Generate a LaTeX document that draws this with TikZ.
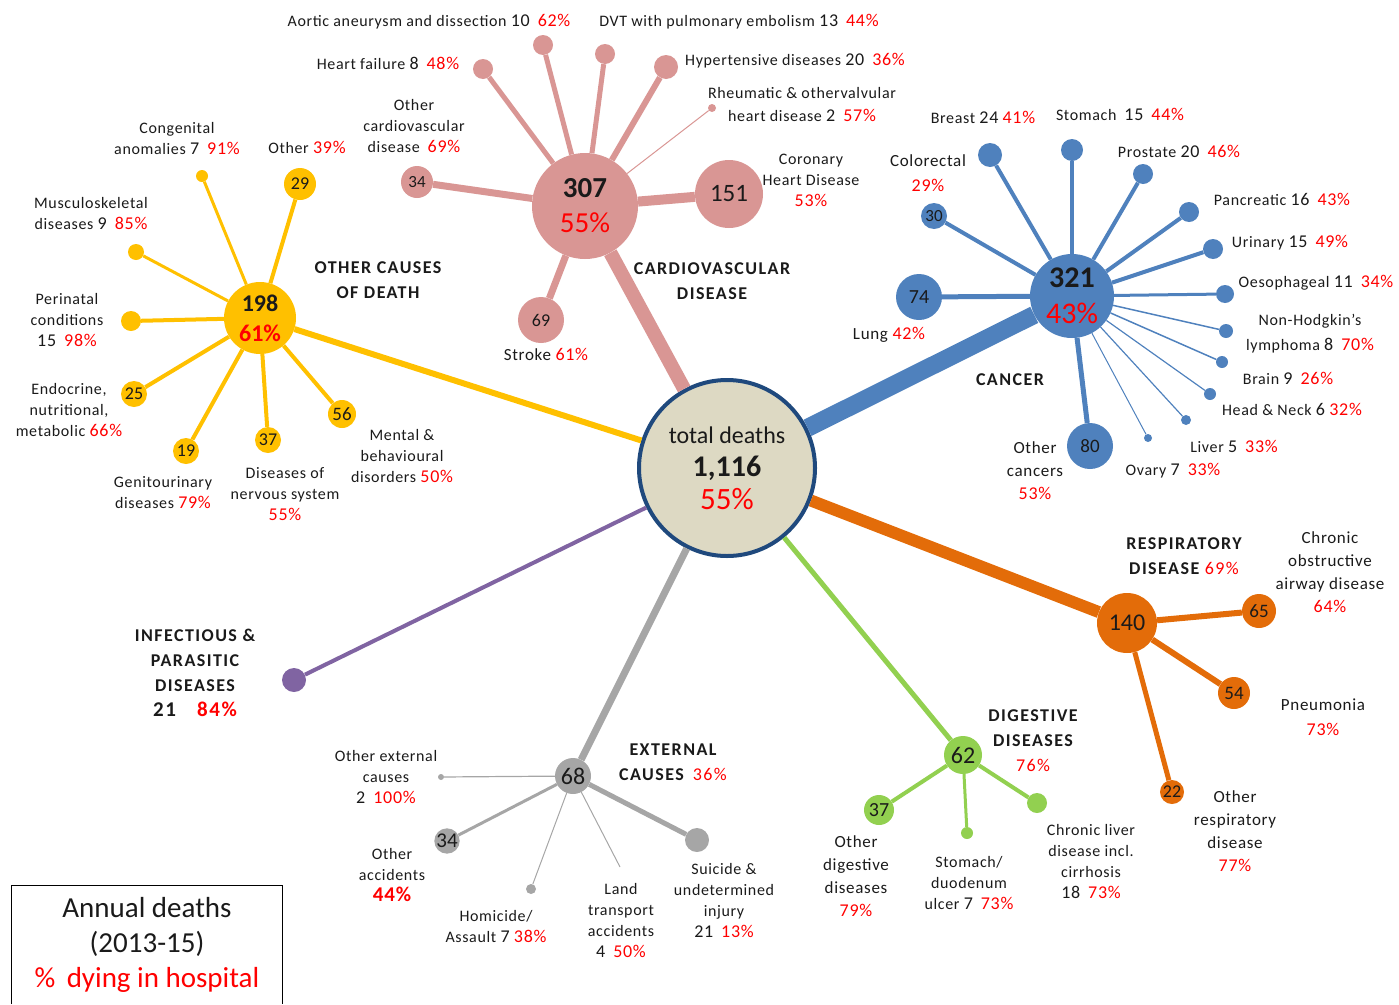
\documentclass[tikz,border=0pt]{standalone}
\usepackage{fontspec}
\setmainfont{Carlito}
\usetikzlibrary{positioning}
\definecolor{cvdc}{HTML}{D99694}
\definecolor{othc}{HTML}{FFC000}
\definecolor{canc}{HTML}{4F81BD}
\definecolor{resc}{HTML}{E36C09}
\definecolor{digc}{HTML}{92D050}
\definecolor{extc}{HTML}{A6A6A6}
\definecolor{infc}{HTML}{8064A2}
\definecolor{ctrfill}{HTML}{DDD9C3}
\definecolor{ctrline}{HTML}{1F497D}
\definecolor{pcred}{HTML}{FF0000}
\definecolor{txt}{HTML}{1A1A1A}
\newcommand\pc[1]{{\fontsize{18}{20}\selectfont\color{pcred}#1}}
\newcommand\nb[1]{{\fontsize{18}{20}\selectfont #1}}
\newcommand\fs[1]{\fontsize{#1}{#1}\selectfont}
\newcommand\lsp[1]{\addfontfeature{LetterSpace=#1}}
\tikzset{
  leaf/.style 2 args={circle, inner sep=0pt, fill=#1, minimum size=#2, text=txt},
  lbl/.style={align=center, text=txt, inner sep=0pt, font=\fontsize{16}{21}\selectfont\lsp{4}},
  ttl/.style={align=center, text=txt, inner sep=0pt, font=\bfseries\fontsize{18}{25}\selectfont\lsp{8}}
}
\begin{document}
\begin{tikzpicture}[x=1pt,y=-1pt]
\useasboundingbox (0,0) rectangle (1399,1004);

% Total
\node[circle, fill=ctrfill, draw=ctrline, line width=4, minimum size=176, inner sep=0pt,
  align=center, text=txt, font=\fontsize{30}{33}\selectfont] (total) at (727,468)
  {{\fs{24}total deaths}\\{\bfseries 1,116}\\{\fs{31}\color{pcred}55\%}};

% Cardiovascular
\node[leaf={cvdc}{106}, align=center, font=\fontsize{29}{35}\selectfont] (cvd) at (585,206)
  {{\bfseries 307}\\{\color{pcred}55\%}};
\node[leaf={cvdc}{68}, font=\fs{25}] (chd) at (729,194) {151};
\node[leaf={cvdc}{32}, font=\fs{17}] (ocvd) at (417,182) {34};
\node[leaf={cvdc}{46}, font=\fs{18}] (stroke) at (541,320) {69};
\node[leaf={cvdc}{20}] (hf) at (483,69) {};
\node[leaf={cvdc}{20}] (aort) at (543,45) {};
\node[leaf={cvdc}{20}] (dvt) at (605,54) {};
\node[leaf={cvdc}{24}] (hyp) at (666,67) {};
\node[leaf={cvdc}{8}] (rheum) at (712,108) {};
\draw[cvdc, line width=14] (total) -- (cvd);
\draw[cvdc, line width=10] (cvd) -- (chd);
\draw[cvdc, line width=7] (cvd) -- (ocvd);
\draw[cvdc, line width=7] (cvd) -- (stroke);
\draw[cvdc, line width=5] (cvd) -- (hf);
\draw[cvdc, line width=5] (cvd) -- (aort);
\draw[cvdc, line width=5] (cvd) -- (dvt);
\draw[cvdc, line width=6] (cvd) -- (hyp);
\draw[cvdc, line width=1] (cvd) -- (rheum);
\node[lbl] (laort) at (429,22) {Aortic aneurysm and dissection \nb{10}\enspace\pc{62\%}};
\node[lbl] (ldvt) at (739,22) {DVT with pulmonary embolism \nb{13}\enspace\pc{44\%}};
\node[lbl] (lhf) at (388,63) {Heart failure \nb{8}\enspace\pc{48\%}};
\node[lbl] (lhyp) at (795,61) {Hypertensive diseases \nb{20}\enspace\pc{36\%}};
\node[lbl, font=\fontsize{16}{23}\selectfont\lsp{4}] (lrheum) at (802,105) {Rheumatic \& othervalvular\\heart disease \nb{2}\enspace\pc{57\%}};
\node[lbl] (locvd) at (414,126) {Other\\cardiovascular\\disease\enspace\pc{69\%}};
\node[lbl] (lchd) at (811,180) {Coronary\\Heart Disease\\\pc{53\%}};
\node[ttl] (tcvd) at (712,281) {CARDIOVASCULAR\\DISEASE};
\node[lbl, font=\fs{17}\lsp{4}] (lstroke) at (546,354) {Stroke \pc{61\%}};

% Other causes
\node[leaf={othc}{72}, align=center, font=\fontsize{24}{30}\selectfont] (oth) at (260,318)
  {{\bfseries 198}\\{\color{pcred}\bfseries 61\%}};
\node[leaf={othc}{32}, font=\fs{18}] (oo) at (300,184) {29};
\node[leaf={othc}{12}] (cong) at (202,176) {};
\node[leaf={othc}{16}] (musc) at (136,252) {};
\node[leaf={othc}{20}] (peri) at (131,321) {};
\node[leaf={othc}{26}, font=\fs{18}] (endo) at (134,394) {25};
\node[leaf={othc}{26}, font=\fs{18}] (geni) at (186,451) {19};
\node[leaf={othc}{26}, font=\fs{18}] (nerv) at (268,440) {37};
\node[leaf={othc}{28}, font=\fs{19}] (ment) at (342,414) {56};
\draw[othc, line width=6] (total) -- (oth);
\foreach \n/\w in {oo/4, cong/3, musc/3, peri/4, endo/4, geni/4, nerv/4, ment/4}
  \draw[othc, line width=\w] (oth) -- (\n);
\node[lbl] (lcong) at (177,139) {Congenital\\anomalies \nb{7}\enspace\pc{91\%}};
\node[lbl] (loo) at (307,147) {Other \pc{39\%}};
\node[lbl] (lmusc) at (91,214) {Musculoskeletal\\diseases \nb{9}\enspace\pc{85\%}};
\node[ttl] (toth) at (378,280) {OTHER CAUSES\\OF DEATH};
\node[lbl] (lperi) at (67,320) {Perinatal\\conditions\\\nb{15}\enspace\pc{98\%}};
\node[lbl] (lendo) at (69,410) {Endocrine,\\nutritional,\\metabolic \pc{66\%}};
\node[lbl] (lgeni) at (163,493) {Genitourinary\\diseases \pc{79\%}};
\node[lbl] (lnerv) at (285,494) {Diseases of\\nervous system\\\pc{55\%}};
\node[lbl] (lment) at (402,456) {Mental \&\\behavioural\\disorders \pc{50\%}};

% Cancer
\node[leaf={canc}{84}, align=center, font=\fontsize{30}{36}\selectfont] (cancer) at (1072,296)
  {{\bfseries 321}\\{\color{pcred}43\%}};
\node[leaf={canc}{46}, font=\fs{20}] (lung) at (919,297) {74};
\node[leaf={canc}{26}, font=\fs{17}] (colo) at (934,216) {30};
\node[leaf={canc}{46}, font=\fs{19}] (ocan) at (1090,446) {80};
\draw[canc, line width=18] (total) -- (cancer);
\draw[canc, line width=5] (cancer) -- (lung);
\draw[canc, line width=4] (cancer) -- (colo);
\draw[canc, line width=5] (cancer) -- (ocan);
\foreach \n/\x/\y/\s/\w in {brs/990/155/24/4, sto/1072/150/22/4, pro/1143/174/20/4,
    pan/1189/212/20/4, uri/1213/249/20/4, oes/1225/294/18/3, nhl/1226/331/14/1.5,
    bra/1222/362/12/1.5, hnk/1210/394/12/1.2, liv/1186/420/10/1.2, ova/1148/438/8/1}
{
  \node[leaf={canc}{\s}] (c\n) at (\x,\y) {};
  \draw[canc, line width=\w] (cancer) -- (c\n);
}
\node[lbl] (lbrs) at (983,117) {Breast \nb{24} \pc{41\%}};
\node[lbl] (lsto) at (1120,114) {Stomach\enspace\nb{15}\enspace\pc{44\%}};
\node[lbl, font=\fontsize{17}{25}\selectfont\lsp{4}] (lcolo) at (928,173) {Colorectal\\\pc{29\%}};
\node[lbl] (lpro) at (1179,151) {Prostate \nb{20}\enspace\pc{46\%}};
\node[lbl] (lpan) at (1282,199) {Pancreatic \nb{16}\enspace\pc{43\%}};
\node[lbl] (luri) at (1290,243) {Urinary \nb{15}\enspace\pc{49\%}};
\node[lbl] (loes) at (1316,283) {Oesophageal \nb{11}\enspace\pc{34\%}};
\node[lbl, font=\fontsize{16}{25}\selectfont\lsp{4}] (lnhl) at (1310,334) {Non-Hodgkin’s\\lymphoma \nb{8}\enspace\pc{70\%}};
\node[lbl] (lbra) at (1288,378) {Brain \nb{9}\enspace\pc{26\%}};
\node[lbl] (lhnk) at (1292,409) {Head \& Neck \nb{6} \pc{32\%}};
\node[lbl] (lliv) at (1234,446) {Liver \nb{5}\enspace\pc{33\%}};
\node[lbl] (lova) at (1173,471) {Ovary \nb{7}\enspace\pc{33\%}};
\node[lbl, font=\fontsize{17}{23}\selectfont\lsp{4}] (locan) at (1035,471) {Other\\cancers\\\pc{53\%}};
\node[lbl, font=\fs{17}\lsp{4}] (llung) at (889,335) {Lung \pc{42\%}};
\node[ttl] (tcan) at (1010,380) {CANCER};

% Respiratory
\node[leaf={resc}{60}, font=\fs{24}] (resp) at (1127,623) {140};
\node[leaf={resc}{34}, font=\fs{19}] (copd) at (1259,611) {65};
\node[leaf={resc}{32}, font=\fs{19}] (pneu) at (1234,693) {54};
\node[leaf={resc}{24}, font=\fs{18}] (ores) at (1172,792) {22};
\draw[resc, line width=12] (total) -- (resp);
\draw[resc, line width=6] (resp) -- (copd);
\draw[resc, line width=6] (resp) -- (pneu);
\draw[resc, line width=5] (resp) -- (ores);
\node[ttl] (tres) at (1184,556) {RESPIRATORY\\DISEASE \pc{\mdseries 69\%}};
\node[lbl, font=\fontsize{17}{23}\selectfont\lsp{4}] (lcopd) at (1330,572) {Chronic\\obstructive\\airway disease\\\pc{64\%}};
\node[lbl, font=\fontsize{17}{25}\selectfont\lsp{4}] (lpneu) at (1323,717) {Pneumonia\\\pc{73\%}};
\node[lbl, font=\fontsize{17}{23}\selectfont\lsp{4}] (lores) at (1235,831) {Other\\respiratory\\disease\\\pc{77\%}};

% Digestive
\node[leaf={digc}{38}, font=\fs{24}] (dig) at (963,755) {62};
\node[leaf={digc}{30}, font=\fs{20}] (odig) at (879,810) {37};
\node[leaf={digc}{12}] (ulc) at (967,833) {};
\node[leaf={digc}{20}] (cirr) at (1037,803) {};
\draw[digc, line width=5] (total) -- (dig);
\draw[digc, line width=4] (dig) -- (odig);
\draw[digc, line width=3] (dig) -- (ulc);
\draw[digc, line width=4] (dig) -- (cirr);
\node[ttl] (tdig) at (1033,741) {DIGESTIVE\\DISEASES\\\pc{\mdseries 76\%}};
\node[lbl, font=\fontsize{17}{23}\selectfont\lsp{4}] (lodig) at (856,876) {Other\\digestive\\diseases\\\pc{79\%}};
\node[lbl] (lulc) at (969,883) {Stomach/\\duodenum\\ulcer \nb{7}\enspace\pc{73\%}};
\node[lbl] (lcirr) at (1091,862) {Chronic liver\\disease incl.\\cirrhosis\\\nb{18}\enspace\pc{73\%}};

% External
\node[leaf={extc}{36}, font=\fs{24}] (ext) at (573,776) {68};
\node[leaf={extc}{6}] (oext) at (441,777) {};
\node[leaf={extc}{24}, font=\fs{21}] (oacc) at (447,841) {34};
\node[leaf={extc}{10}] (homi) at (531,889) {};
\coordinate (land) at (620,867);
\node[leaf={extc}{24}] (suic) at (697,840) {};
\draw[extc, line width=7] (total) -- (ext);
\draw[extc, line width=1.2] (ext) -- (oext);
\draw[extc, line width=3] (ext) -- (oacc);
\draw[extc, line width=1] (ext) -- (homi);
\draw[extc, line width=1] (ext) -- (land);
\draw[extc, line width=5] (ext) -- (suic);
\node[ttl] (text) at (673,762) {EXTERNAL\\CAUSES\enspace\pc{\mdseries 36\%}};
\node[lbl] (loext) at (386,777) {Other external\\causes\\\nb{2}\enspace\pc{100\%}};
\node[lbl] (loacc) at (392,875) {Other\\accidents\\{\fontsize{21}{21}\selectfont\bfseries\color{pcred}44\%}};
\node[lbl] (lhomi) at (496,927) {Homicide/\\Assault \nb{7} \pc{38\%}};
\node[lbl] (lland) at (621,921) {Land\\transport\\accidents\\\nb{4}\enspace\pc{50\%}};
\node[lbl] (lsuic) at (724,901) {Suicide \&\\undetermined\\injury\\\nb{21}\enspace\pc{13\%}};

% Infectious
\node[leaf={infc}{24}] (inf) at (294,680) {};
\draw[infc, line width=4] (total) -- (inf);
\node[ttl] (tinf) at (195,673)
  {INFECTIOUS \&\\PARASITIC\\DISEASES\\{\fontsize{21}{21}\selectfont 21\quad\color{pcred}84\%}};

% Legend
\node[align=center, text=txt, minimum width=270, minimum height=118, inner sep=0pt,
  font=\fontsize{29}{35}\selectfont] (legend) at (147,945)
  {Annual deaths\\(2013-15)\\{\color{pcred}\%\, dying in hospital}};
\draw[black, line width=1.2] (legend.south west) |- (legend.north east) -- (legend.south east);
\end{tikzpicture}
\end{document}
